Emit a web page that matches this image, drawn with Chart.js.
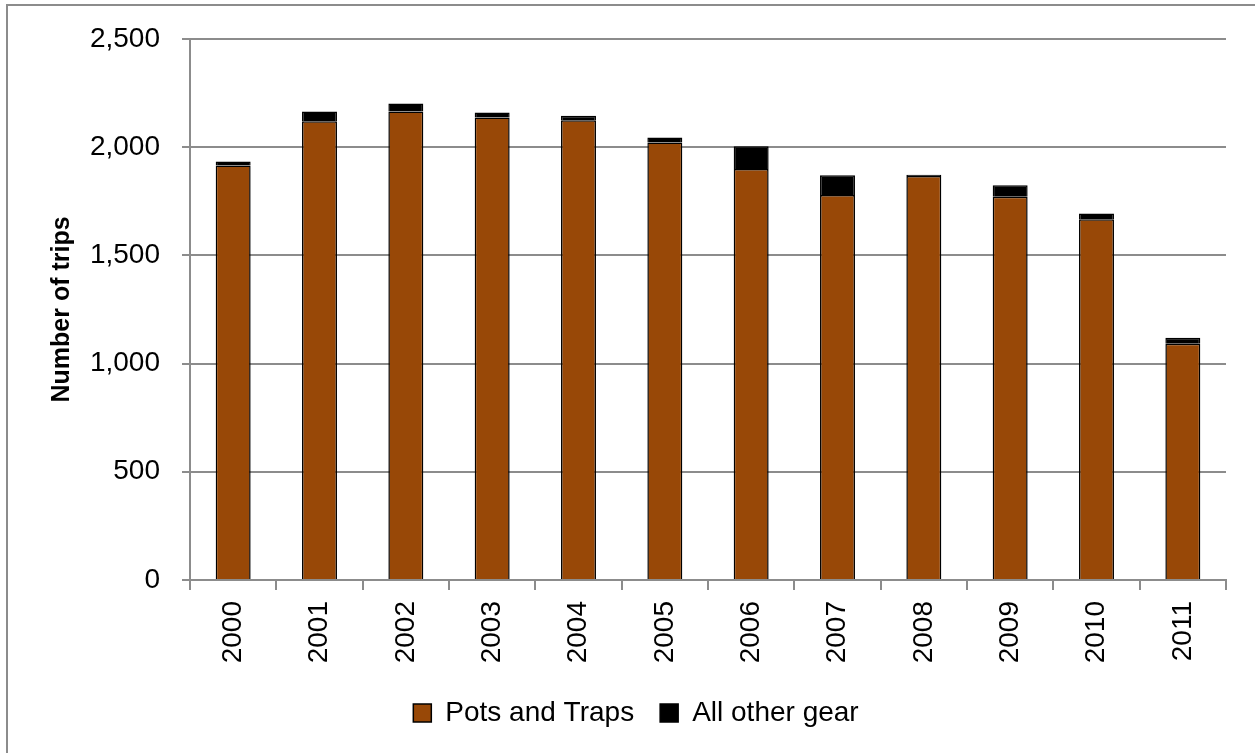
<!DOCTYPE html>
<html>
<head>
<meta charset="utf-8">
<script src="https://cdn.jsdelivr.net/npm/chart.js@4/dist/chart.umd.min.js"></script>
<style>
  html, body { margin: 0; padding: 0; background: #fff; }
  #wrap { position: absolute; left: 0; top: 0; width: 1255px; height: 753px; }
</style>
</head>
<body>
<div id="wrap"><canvas id="myChart"></canvas></div>
<script>
var years = ['2000', '2001', '2002', '2003', '2004', '2005', '2006', '2007', '2008', '2009', '2010', '2011'];
var potsAndTraps = [1915, 2119, 2164, 2136, 2124, 2021, 1899, 1779, 1866, 1770, 1667, 1091];
var allOtherGear = [18, 45, 37, 23, 20, 23, 105, 91, 6, 54, 26, 28];
var yTicks = [0, 500, 1000, 1500, 2000, 2500];

Chart.defaults.font.family = "'Liberation Sans', Arial, sans-serif";
Chart.defaults.color = '#000';

// grey frame round the chart, like the Excel chart border
var frame = {
  id: 'frame',
  beforeDraw: function (chart) {
    var c = chart.ctx;
    c.save();
    c.fillStyle = '#fff';
    c.fillRect(0, 0, chart.width, chart.height);
    c.strokeStyle = '#8c8c8c';
    c.lineWidth = 2;
    c.beginPath();
    c.moveTo(7, chart.height);
    c.lineTo(7, 5);
    c.lineTo(chart.width, 5);
    c.stroke();
    c.restore();
  }
};

var ctx = document.getElementById('myChart');
var myChart = new Chart(ctx, {
  type: 'bar',
  data: {
    labels: years,
    datasets: [{
      label: 'Pots and Traps',
      data: potsAndTraps,
      backgroundColor: '#984807',
      borderColor: '#000',
      borderWidth: 1.5,
      barPercentage: 0.405,
      categoryPercentage: 1
    }, {
      label: 'All other gear',
      data: allOtherGear,
      backgroundColor: '#000',
      borderColor: '#000',
      borderWidth: 1.5,
      barPercentage: 0.405,
      categoryPercentage: 1
    }]
  },
  options: {
    responsive: true,
    maintainAspectRatio: false,
    animation: false,
    layout: {
      padding: { left: 46, right: 29, top: 38, bottom: 16 }
    },
    plugins: {
      legend: {
        position: 'bottom',
        labels: {
          font: { size: 28 },
          boxWidth: 18,
          boxHeight: 18,
          padding: 26
        }
      },
      tooltip: { enabled: false }
    },
    scales: {
      x: {
        stacked: true,
        grid: {
          drawOnChartArea: false,
          color: '#8c8c8c',
          lineWidth: 2,
          tickLength: 10
        },
        border: { color: '#8c8c8c', width: 2 },
        ticks: {
          font: { size: 28 },
          minRotation: 90,
          maxRotation: 90,
          padding: 11
        },
        afterFit: function (scale) { scale.height = 93; }
      },
      y: {
        stacked: true,
        min: 0,
        max: 2500,
        afterBuildTicks: function (scale) {
          scale.ticks = yTicks.map(function (v) { return { value: v }; });
        },
        grid: {
          color: '#8c8c8c',
          lineWidth: 2,
          tickLength: 8
        },
        border: { color: '#8c8c8c', width: 2 },
        ticks: {
          font: { size: 28 },
          padding: 22,
          callback: function (v) { return v.toLocaleString('en-US'); }
        },
        title: {
          display: true,
          text: 'Number of trips',
          font: { size: 25, weight: 'bold' },
          padding: { top: 1, bottom: 0 }
        },
        afterFit: function (scale) { scale.width = 144; }
      }
    }
  },
  plugins: [frame]
});
</script>
</body>
</html>
